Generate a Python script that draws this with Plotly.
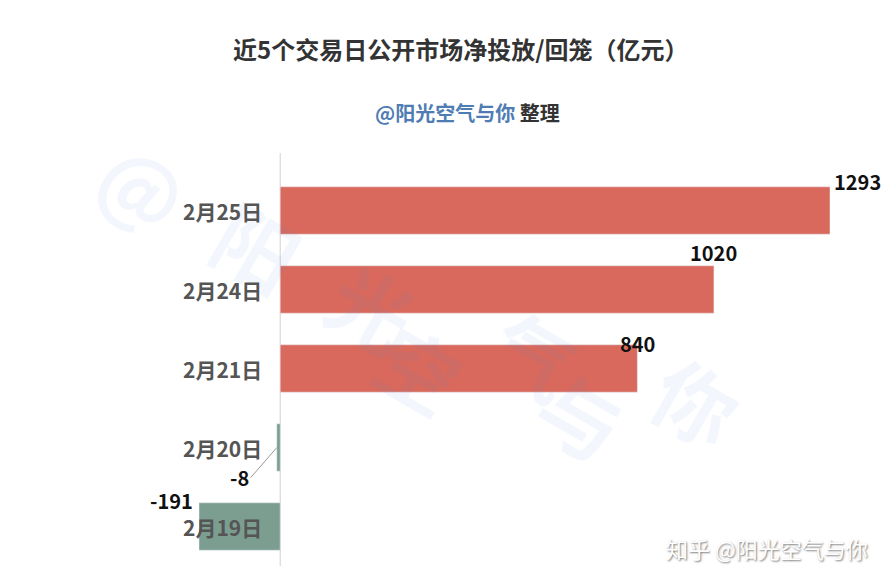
import plotly.graph_objects as go

dates = ["2月19日", "2月20日", "2月21日", "2月24日", "2月25日"]
values = [-191, -8, 840, 1020, 1293]
watermark = "@阳光空气与你"

colors = ["#7C9E91" if v < 0 else "#D9695C" for v in values]
fig = go.Figure(go.Bar(y=dates, x=values, orientation="h", marker_color=colors, width=0.6))

font = "Noto Sans CJK SC"
ann = []
for i, ch in enumerate(watermark):
    px = 75 + i * 115
    py = 115 + i * 60
    ann.append(dict(xref="paper", yref="paper", x=(px - 199) / 631, y=(564.5 - py) / 395,
                    text=f"<b>{ch}</b>", textangle=30, showarrow=False,
                    font=dict(size=82, color="rgba(80,140,220,0.07)", family=font)))
for d, v in zip(dates, values):
    ann.append(dict(x=0, y=d, xref="x", yref="y", text=f"<b>{d}</b>", showarrow=False,
                    xanchor="right", xshift=-16, font=dict(size=21, color="#555555", family=font)))
shifts = {840: 25, 1020: 37, 1293: 29}
for d, v in zip(dates, values):
    if v >= 0:
        ann.append(dict(x=v, y=d, text=f"<b>{v}</b>", showarrow=False, yshift=shifts[v],
                        xshift=2 if v == 1293 else 0,
                        xanchor="left" if v == 1293 else "center",
                        font=dict(size=20, color="#111111", family=font)))
ann.append(dict(x=-8, y="2月20日", text="<b>-8</b>", showarrow=True, ax=-26, ay=30, arrowhead=0,
                arrowcolor="#999999", arrowwidth=1, xanchor="right",
                font=dict(size=20, color="#111111", family=font)))
ann.append(dict(x=-191, y="2月19日", text="<b>-191</b>", showarrow=False, yshift=26, xshift=-28,
                font=dict(size=20, color="#111111", family=font)))
ann.append(dict(xref="paper", yref="paper", x=0.414, y=1.338, text="<b>近5个交易日公开市场净投放/回笼（亿元）</b>",
                showarrow=False, font=dict(size=24, color="#333333", family=font)))
ann.append(dict(xref="paper", yref="paper", x=0.425, y=1.171,
                text="<b><span style='color:#4F7DB3'>@阳光空气与你</span> 整理</b>",
                showarrow=False, font=dict(size=20, color="#333333", family=font)))
ann.append(dict(xref="paper", yref="paper", x=1.063, y=0.0, xanchor="right", yanchor="bottom",
                text="知乎 @阳光空气与你", showarrow=False,
                font=dict(size=22, color="white", family=font, shadow="1px 1px 2px #777")))

fig.update_layout(
    width=893, height=585, margin=dict(l=191, r=71, t=157, b=27),
    paper_bgcolor="white", plot_bgcolor="white", showlegend=False,
    xaxis=dict(range=[-191, 1293], visible=False, zeroline=False),
    yaxis=dict(showticklabels=False, showgrid=False, zeroline=False),
    annotations=ann,
    shapes=[dict(type="line", xref="x", yref="paper", x0=0, x1=0, y0=0, y1=1.03,
                 line=dict(color="#D0D0D0", width=1), layer="below")],
)
fig.write_html("out.html")
